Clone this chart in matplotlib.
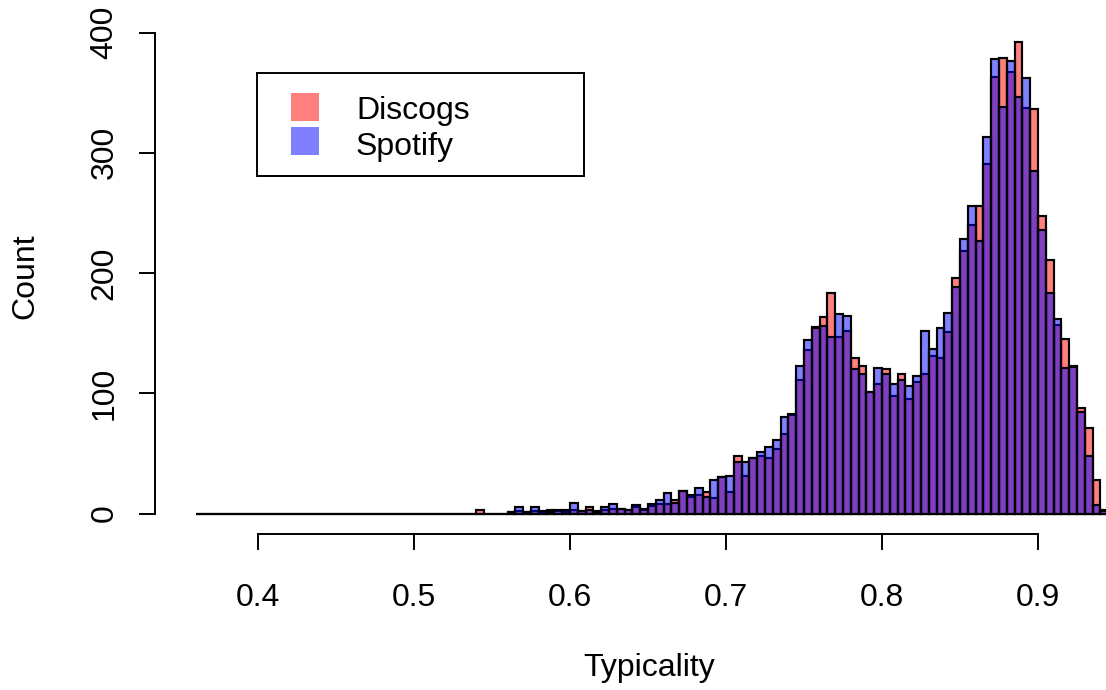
import numpy as np
import matplotlib
matplotlib.use("Agg")
import matplotlib.pyplot as plt
from matplotlib.patches import Rectangle

plt.rcParams["font.family"] = ["Liberation Sans", "DejaVu Sans"]

# Histogram bins: 0.005 wide, starting at 0.36
first_edge = 0.36
bin_width = 0.005

# Counts per bin, 0.36 -> 0.945
discogs_counts = [
    0, 0, 0, 0, 0, 0, 0, 0, 0, 0, 0, 0, 0, 0, 0, 0, 0, 0,
    0, 0, 0, 0, 0, 0, 0, 0, 0, 0, 0, 0, 0, 0, 0, 0, 0, 0,
    3, 0, 0, 0, 1, 2, 1, 2, 1, 3, 2, 1, 3, 2, 5, 2, 3, 4,
    4, 3, 5, 3, 6, 8, 8, 11, 19, 14, 15, 18, 13, 30, 18, 48, 31, 46,
    48, 46, 54, 66, 82, 111, 136, 155, 163, 183, 147, 152, 129, 123, 101, 108, 120, 98,
    116, 95, 109, 116, 131, 129, 151, 196, 218, 240, 256, 291, 363, 379, 367, 392, 337, 336,
    247, 211, 157, 145, 123, 88, 71, 28, 3,
]
spotify_counts = [
    0, 0, 0, 0, 0, 0, 0, 0, 0, 0, 0, 0, 0, 0, 0, 0, 0, 0,
    0, 0, 0, 0, 0, 0, 0, 0, 0, 0, 0, 0, 0, 0, 0, 0, 0, 0,
    0, 0, 0, 0, 1, 5, 1, 5, 2, 1, 3, 3, 9, 2, 3, 1, 5, 8,
    4, 3, 7, 4, 8, 11, 17, 9, 19, 15, 21, 14, 28, 30, 31, 43, 43, 46,
    51, 55, 61, 80, 83, 123, 144, 154, 156, 147, 166, 164, 120, 116, 101, 121, 116, 108,
    111, 106, 114, 152, 137, 154, 167, 188, 228, 256, 227, 313, 378, 338, 376, 346, 362, 285,
    236, 183, 162, 121, 122, 84, 48, 7, 2,
]

series_names = ["Discogs", "Spotify"]
series_colors = [(1.0, 0.0, 0.0, 0.5), (0.0, 0.0, 1.0, 0.5)]

x_ticks = [0.4, 0.5, 0.6, 0.7, 0.8, 0.9]
y_ticks = [0, 100, 200, 300, 400]

W, H = 1106, 690
fig = plt.figure(figsize=(W / 100, H / 100), dpi=100)


def fx(px):
    return px / W


def fy(py):
    return 1 - py / H


# Axes box in pixels: left spine at x=155, bottom spine at y=534
left_px, right_px, top_px, bottom_px = 155, 1106, 0, 534
ax = fig.add_axes([fx(left_px), fy(bottom_px), fx(right_px - left_px), (bottom_px - top_px) / H])

# pixel <-> data mapping: 0.4 at x=258, 0.9 at x=1038; 0 at y=513.5, 400 at y=32.5
px_per_x = (1038 - 258) / 0.5
px_per_y = (513.5 - 32.5) / 400
ax.set_xlim(0.4 + (left_px - 258) / px_per_x, 0.4 + (right_px - 258) / px_per_x)
ax.set_ylim(-(bottom_px - 513.5) / px_per_y, 513.5 / px_per_y)

edges = first_edge + bin_width * np.arange(len(discogs_counts))
for counts, color in zip([discogs_counts, spotify_counts], series_colors):
    ax.bar(edges, counts, width=bin_width, align="edge", color=color,
           edgecolor="black", linewidth=1.55, clip_on=True)

for side in ["top", "right"]:
    ax.spines[side].set_visible(False)
for side in ["left", "bottom"]:
    ax.spines[side].set_linewidth(1.4)
    ax.spines[side].set_color("black")
ax.spines["left"].set_bounds(0, 400)
ax.spines["bottom"].set_bounds(0.4, 0.9)
ax.set_facecolor("none")

ax.set_xticks(x_ticks)
ax.set_xticklabels([f"{t:.1f}" for t in x_ticks])
ax.set_yticks(y_ticks)
ax.set_yticklabels([str(t) for t in y_ticks], rotation=90, va="center", ha="right")
ax.tick_params(axis="both", direction="out", length=11.5, width=1.4, colors="black",
               labelsize=23)
ax.tick_params(axis="x", pad=24)
ax.tick_params(axis="y", pad=14)

# axis titles
fig.text(fx(649), fy(668), "Typicality", fontsize=23, ha="center", va="center")
fig.text(fx(25), fy(276), "Count", fontsize=23, ha="center", va="center", rotation=90)

# legend box
fig.add_artist(Rectangle((fx(257), fy(176)), fx(584 - 257), (176 - 73) / H,
                         transform=fig.transFigure, fill=False, edgecolor="black",
                         linewidth=1.4))
square_tops = [93, 127]
text_baselines = [119, 154.5]
for name, color, top, base in zip(series_names, series_colors, square_tops, text_baselines):
    fig.add_artist(Rectangle((fx(291), fy(top + 28)), fx(28), 28 / H,
                             transform=fig.transFigure, facecolor=color,
                             edgecolor="none"))
    fig.text(fx(356), fy(base), name, fontsize=23, ha="left", va="baseline")

fig.savefig("out.png", dpi=100, facecolor="white")
